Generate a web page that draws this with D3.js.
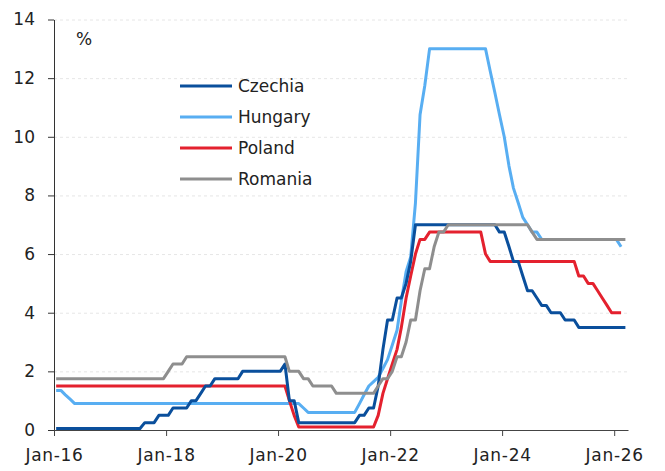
<!DOCTYPE html>
<html>
<head>
<meta charset="utf-8">
<script src="https://cdn.jsdelivr.net/npm/d3@7"></script>
<style>
  html, body { margin: 0; padding: 0; background: #fff; }
  svg { display: block; font-family: "DejaVu Sans", sans-serif; }
</style>
</head>
<body>
<svg id="chart" width="665" height="471"></svg>
<script>
// ---- Data (monthly policy rates, %, Jan-2016 onwards) ----
const seriesNames = ["Czechia", "Hungary", "Poland", "Romania"];
const seriesColors = ["#0a4f9c", "#58aef2", "#e4212e", "#8e8e8e"];

const czechia = [
  // 2016
  0.05,0.05,0.05,0.05,0.05,0.05,0.05,0.05,0.05,0.05,0.05,0.05,
  // 2017
  0.05,0.05,0.05,0.05,0.05,0.05,0.05,0.25,0.25,0.25,0.5,0.5,
  // 2018
  0.5,0.75,0.75,0.75,0.75,1.0,1.0,1.25,1.5,1.5,1.75,1.75,
  // 2019
  1.75,1.75,1.75,1.75,2.0,2.0,2.0,2.0,2.0,2.0,2.0,2.0,
  // 2020
  2.0,2.25,1.0,1.0,0.25,0.25,0.25,0.25,0.25,0.25,0.25,0.25,
  // 2021
  0.25,0.25,0.25,0.25,0.25,0.5,0.5,0.75,0.75,1.5,2.75,3.75,
  // 2022
  3.75,4.5,4.5,5.0,5.75,7.0,7.0,7.0,7.0,7.0,7.0,7.0,
  // 2023
  7.0,7.0,7.0,7.0,7.0,7.0,7.0,7.0,7.0,7.0,7.0,6.75,
  // 2024
  6.75,6.25,5.75,5.75,5.25,4.75,4.75,4.5,4.25,4.25,4.0,4.0,
  // 2025
  4.0,3.75,3.75,3.75,3.5,3.5,3.5,3.5,3.5,3.5,3.5,3.5,
  // 2026
  3.5,3.5,3.5
];

const hungary = [
  // 2016
  1.35,1.35,1.2,1.05,0.9,0.9,0.9,0.9,0.9,0.9,0.9,0.9,
  // 2017
  0.9,0.9,0.9,0.9,0.9,0.9,0.9,0.9,0.9,0.9,0.9,0.9,
  // 2018
  0.9,0.9,0.9,0.9,0.9,0.9,0.9,0.9,0.9,0.9,0.9,0.9,
  // 2019
  0.9,0.9,0.9,0.9,0.9,0.9,0.9,0.9,0.9,0.9,0.9,0.9,
  // 2020
  0.9,0.9,0.9,0.9,0.9,0.75,0.6,0.6,0.6,0.6,0.6,0.6,
  // 2021
  0.6,0.6,0.6,0.6,0.6,0.9,1.2,1.5,1.65,1.8,2.1,2.4,
  // 2022
  2.9,3.4,4.4,5.4,5.9,7.75,10.75,11.75,13.0,13.0,13.0,13.0,
  // 2023
  13.0,13.0,13.0,13.0,13.0,13.0,13.0,13.0,13.0,12.25,11.5,10.75,
  // 2024
  10.0,9.0,8.25,7.75,7.25,7.0,6.75,6.75,6.5,6.5,6.5,6.5,
  // 2025
  6.5,6.5,6.5,6.5,6.5,6.5,6.5,6.5,6.5,6.5,6.5,6.5,
  // 2026
  6.5,6.25
];

const poland = [
  // 2016
  1.5,1.5,1.5,1.5,1.5,1.5,1.5,1.5,1.5,1.5,1.5,1.5,
  // 2017
  1.5,1.5,1.5,1.5,1.5,1.5,1.5,1.5,1.5,1.5,1.5,1.5,
  // 2018
  1.5,1.5,1.5,1.5,1.5,1.5,1.5,1.5,1.5,1.5,1.5,1.5,
  // 2019
  1.5,1.5,1.5,1.5,1.5,1.5,1.5,1.5,1.5,1.5,1.5,1.5,
  // 2020
  1.5,1.5,1.0,0.5,0.1,0.1,0.1,0.1,0.1,0.1,0.1,0.1,
  // 2021
  0.1,0.1,0.1,0.1,0.1,0.1,0.1,0.1,0.1,0.5,1.25,1.75,
  // 2022
  2.25,2.75,3.5,4.5,5.25,6.0,6.5,6.5,6.75,6.75,6.75,6.75,
  // 2023
  6.75,6.75,6.75,6.75,6.75,6.75,6.75,6.75,6.0,5.75,5.75,5.75,
  // 2024
  5.75,5.75,5.75,5.75,5.75,5.75,5.75,5.75,5.75,5.75,5.75,5.75,
  // 2025
  5.75,5.75,5.75,5.75,5.25,5.25,5.0,5.0,4.75,4.5,4.25,4.0,
  // 2026
  4.0,4.0
];

const romania = [
  // 2016
  1.75,1.75,1.75,1.75,1.75,1.75,1.75,1.75,1.75,1.75,1.75,1.75,
  // 2017
  1.75,1.75,1.75,1.75,1.75,1.75,1.75,1.75,1.75,1.75,1.75,1.75,
  // 2018
  2.0,2.25,2.25,2.25,2.5,2.5,2.5,2.5,2.5,2.5,2.5,2.5,
  // 2019
  2.5,2.5,2.5,2.5,2.5,2.5,2.5,2.5,2.5,2.5,2.5,2.5,
  // 2020
  2.5,2.5,2.0,2.0,2.0,1.75,1.75,1.5,1.5,1.5,1.5,1.5,
  // 2021
  1.25,1.25,1.25,1.25,1.25,1.25,1.25,1.25,1.25,1.5,1.75,1.75,
  // 2022
  2.0,2.5,2.5,3.0,3.75,3.75,4.75,5.5,5.5,6.25,6.75,6.75,
  // 2023
  7.0,7.0,7.0,7.0,7.0,7.0,7.0,7.0,7.0,7.0,7.0,7.0,
  // 2024
  7.0,7.0,7.0,7.0,7.0,7.0,6.75,6.5,6.5,6.5,6.5,6.5,
  // 2025
  6.5,6.5,6.5,6.5,6.5,6.5,6.5,6.5,6.5,6.5,6.5,6.5,
  // 2026
  6.5,6.5,6.5
];

const seriesValues = [czechia, hungary, poland, romania];
const drawOrder = [1, 2, 0, 3]; // Hungary, Poland, Czechia, Romania on top

const yTicks = [0, 2, 4, 6, 8, 10, 12, 14];
const xTickYears = [2016, 2018, 2020, 2022, 2024, 2026];
const xTickLabels = ["Jan-16", "Jan-18", "Jan-20", "Jan-22", "Jan-24", "Jan-26"];
const unitLabel = "%";
const startMonth = new Date(2016, 0, 1);
const axisEnd = new Date(2026, 3, 1);

// ---- Layout ----
const svg = d3.select("#chart");
const margin = { left: 54, right: 37, top: 19.5, bottom: 41 };
const W = 665, H = 471;

const x = d3.scaleTime().domain([startMonth, axisEnd]).range([margin.left, W - margin.right]);
const y = d3.scaleLinear().domain([0, 14]).range([H - margin.bottom, margin.top]);

// monthly dates (mid-month)
const months = d3.timeMonth.range(startMonth, axisEnd).map(d => new Date(d.getFullYear(), d.getMonth(), 15));

// gridlines
svg.append("g")
  .attr("transform", `translate(${margin.left},0)`)
  .call(d3.axisLeft(y).tickValues(yTicks.filter(v => v > 0)).tickSize(-(W - margin.right - margin.left)).tickFormat(""))
  .call(g => g.select(".domain").remove())
  .call(g => g.selectAll("line").attr("stroke", "#e6e6e6").attr("stroke-dasharray", "3,3").attr("stroke-width", 1));

// y axis
svg.append("g")
  .attr("transform", `translate(${margin.left},0)`)
  .call(d3.axisLeft(y).tickValues(yTicks).tickSize(6).tickSizeOuter(0).tickPadding(13).tickFormat(d3.format("d")))
  .call(g => g.select(".domain").attr("stroke", "#333"))
  .call(g => g.selectAll("line").attr("stroke", "#333"))
  .call(g => g.selectAll("text").attr("font-size", 17).attr("fill", "#222").attr("font-family", "DejaVu Sans"));

// x axis
const xTickDates = xTickYears.map(yr => new Date(yr, 0, 1));
svg.append("g")
  .attr("transform", `translate(0,${y(0)})`)
  .call(d3.axisBottom(x).tickValues(xTickDates).tickSize(6).tickSizeOuter(0).tickPadding(12.5)
        .tickFormat((d, i) => xTickLabels[i]))
  .call(g => g.select(".domain").attr("stroke", "#444"))
  .call(g => g.selectAll("line").attr("stroke", "#444"))
  .call(g => g.selectAll("text").attr("font-size", 17).attr("fill", "#222")
               .attr("letter-spacing", "0.7px").attr("font-family", "DejaVu Sans"));

// lines
const line = d3.line()
  .x((d, i) => x(months[i]))
  .y(d => y(d));

drawOrder.forEach(k => {
  svg.append("path")
    .datum(seriesValues[k])
    .attr("fill", "none")
    .attr("stroke", seriesColors[k])
    .attr("stroke-width", 3)
    .attr("stroke-linejoin", "round")
    .attr("stroke-linecap", "butt")
    .attr("d", line);
});

// unit label
svg.append("text")
  .attr("x", 76).attr("y", 44.5)
  .attr("font-size", 17).attr("fill", "#222")
  .text(unitLabel);

// legend
const legend = svg.append("g");
seriesNames.forEach((name, i) => {
  const ly = 86 + i * 31;
  legend.append("line")
    .attr("x1", 180).attr("x2", 232).attr("y1", ly).attr("y2", ly)
    .attr("stroke", seriesColors[i]).attr("stroke-width", 3.2);
  legend.append("text")
    .attr("x", 238).attr("y", ly).attr("dy", "0.35em")
    .attr("font-size", 17).attr("fill", "#222")
    .text(name);
});
</script>
</body>
</html>
